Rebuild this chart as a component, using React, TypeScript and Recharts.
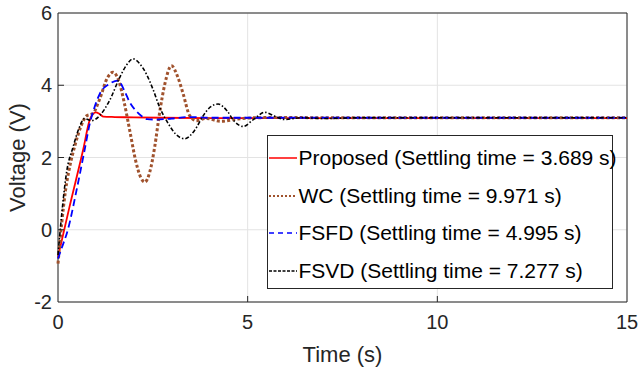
import React from 'react';
import { LineChart, Line, XAxis, YAxis, CartesianGrid, ReferenceArea } from 'recharts';

const xTicks = [0, 5, 10, 15];
const yTicks = [-2, 0, 2, 4, 6];

const seriesNames = [
  'Proposed (Settling time = 3.689 s)',
  'WC (Settling time = 9.971 s)',
  'FSFD (Settling time = 4.995 s)',
  'FSVD (Settling time = 7.277 s)',
];

const proposedT = [0, 0.3, 0.66, 0.84, 0.92, 1.0, 1.1, 1.2, 1.5, 2.0, 2.7, 4, 6, 8, 10, 12, 15];
const proposedV = [-0.75, 0.62, 2.2, 3.05, 3.2, 3.25, 3.2, 3.13, 3.12, 3.11, 3.1, 3.09, 3.09, 3.09, 3.09, 3.09, 3.09];

const wcT = [0, 0.1, 0.2, 0.3, 0.45, 0.6, 0.75, 0.92, 1.1, 1.3, 1.45, 1.6, 1.75, 1.9, 2.05, 2.18, 2.29, 2.42, 2.55, 2.68, 2.82, 2.99, 3.15, 3.3, 3.47, 3.65, 3.9, 4.3, 4.7, 5.2, 6, 7, 8, 9, 10, 11, 12, 13, 14, 15];
const wcV = [-0.94, 0.2, 1.1, 1.7, 2.35, 2.85, 3.15, 3.22, 3.62, 4.2, 4.36, 4.13, 3.5, 2.7, 1.9, 1.45, 1.32, 1.6, 2.3, 3.25, 4.05, 4.54, 4.25, 3.76, 3.16, 3.02, 3.08, 3.0, 3.06, 3.1, 3.11, 3.1, 3.1, 3.1, 3.1, 3.1, 3.1, 3.1, 3.1, 3.1];

const fsfdT = [0, 0.1, 0.26, 0.49, 0.7, 0.84, 0.95, 1.1, 1.36, 1.58, 1.75, 1.89, 2.05, 2.2, 2.35, 2.6, 3.0, 3.5, 4, 5, 6, 8, 10, 12, 15];
const fsfdV = [-0.8, -0.5, 0, 1.1, 2.2, 2.95, 3.35, 3.76, 4.04, 4.13, 3.85, 3.53, 3.3, 3.15, 3.06, 3.05, 3.08, 3.12, 3.1, 3.1, 3.1, 3.1, 3.1, 3.1, 3.1];

const fsvdT = [0, 0.1, 0.22, 0.4, 0.55, 0.7, 0.88, 1.1, 1.36, 1.63, 1.8, 1.98, 2.15, 2.33, 2.5, 2.68, 2.9, 3.1, 3.34, 3.6, 3.83, 4.02, 4.22, 4.45, 4.65, 4.88, 5.15, 5.45, 5.7, 5.98, 6.4, 7, 8, 9, 10, 11, 12, 13, 14, 15];
const fsvdV = [-0.7, 0.45, 1.55, 2.3, 2.8, 3.08, 3.02, 3.16, 3.58, 4.22, 4.55, 4.73, 4.6, 4.31, 3.9, 3.39, 2.95, 2.65, 2.52, 2.75, 3.16, 3.4, 3.48, 3.3, 3.0, 2.86, 3.05, 3.25, 3.15, 3.05, 3.1, 3.08, 3.1, 3.1, 3.1, 3.1, 3.1, 3.1, 3.1, 3.1];

const toData = (ts: number[], vs: number[]) => ts.map((t, i) => ({ t, v: vs[i] }));

const proposedData = toData(proposedT, proposedV);
const wcData = toData(wcT, wcV);
const fsfdData = toData(fsfdT, fsfdV);
const fsvdData = toData(fsvdT, fsvdV);

const FONT = '"Liberation Sans", Arial, Helvetica, sans-serif';
const AX = '#262626';

const styles = [
  { color: '#ff0000', width: 1.8, dash: undefined as string | undefined, legendDash: undefined as string | undefined, legendWidth: 1.5 },
  { color: '#a0522d', width: 3, dash: '3 2.2', legendDash: '2 2', legendWidth: 2.2 },
  { color: '#0000ff', width: 1.8, dash: '7 4', legendDash: '5 4', legendWidth: 1.5 },
  { color: '#000000', width: 1.6, dash: '4 2 1.5 2', legendDash: '3 1.5', legendWidth: 1.3 },
];

const XTick = (props: any) => {
  const { x, y, payload } = props;
  const v = payload.value;
  return (
    <g>
      {v !== 0 && v !== 15 ? (
        <line x1={x} x2={x} y1={y - 13} y2={y - 19} stroke={AX} strokeWidth={1} />
      ) : null}
      <text x={x} y={y} dy="0.71em" textAnchor="middle" fill={AX} fontSize={20} fontFamily={FONT}>
        {String(v)}
      </text>
    </g>
  );
};

const YTick = (props: any) => {
  const { x, y, payload } = props;
  const v = payload.value;
  return (
    <g>
      {v !== -2 && v !== 6 ? (
        <line x1={x + 6} x2={x + 12} y1={y} y2={y} stroke={AX} strokeWidth={1} />
      ) : null}
      <text x={x} y={y} dy="0.355em" textAnchor="end" fill={AX} fontSize={20} fontFamily={FONT}>
        {String(v)}
      </text>
    </g>
  );
};

const YLabel = () => (
  <text
    x={17.5}
    y={157.5}
    transform="rotate(-90 17.5 157.5)"
    textAnchor="middle"
    dominantBaseline="central"
    fill={AX}
    fontSize={22}
    fontFamily={FONT}
  >
    Voltage (V)
  </text>
);

export default function App() {
  return (
    <div style={{ position: 'fixed', left: 0, top: 0, width: 638, height: 371, background: '#fff' }}>
      <LineChart width={638} height={371} margin={{ top: 13, right: 11, left: 0, bottom: 0 }}>
        <CartesianGrid stroke="#e3e3e3" strokeWidth={1} />
        <XAxis
          dataKey="t"
          type="number"
          domain={[0, 15]}
          ticks={xTicks}
          height={69}
          tickSize={0}
          tickMargin={13}
          axisLine={false}
          tick={<XTick />}
          allowDuplicatedCategory={false}
          label={{ value: 'Time (s)', position: 'insideBottom', offset: 9, fill: AX, fontSize: 22, fontFamily: FONT }}
        />
        <YAxis
          type="number"
          domain={[-2, 6]}
          ticks={yTicks}
          width={58}
          tickSize={0}
          tickMargin={6}
          axisLine={false}
          tick={<YTick />}
          label={{ content: () => <YLabel /> }}
        />
        <Line data={proposedData} dataKey="v" type="monotone" stroke={styles[0].color} strokeWidth={styles[0].width} dot={false} isAnimationActive={false} name={seriesNames[0]} />
        <Line data={wcData} dataKey="v" type="monotone" stroke={styles[1].color} strokeWidth={styles[1].width} strokeDasharray={styles[1].dash} dot={false} isAnimationActive={false} name={seriesNames[1]} />
        <Line data={fsfdData} dataKey="v" type="monotone" stroke={styles[2].color} strokeWidth={styles[2].width} strokeDasharray={styles[2].dash} dot={false} isAnimationActive={false} name={seriesNames[2]} />
        <Line data={fsvdData} dataKey="v" type="monotone" stroke={styles[3].color} strokeWidth={styles[3].width} strokeDasharray={styles[3].dash} dot={false} isAnimationActive={false} name={seriesNames[3]} />
        <ReferenceArea x1={0} x2={15} y1={-2} y2={6} fill="none" stroke={AX} strokeWidth={1} ifOverflow="visible" />
      </LineChart>
      <div
        style={{
          position: 'absolute',
          left: 266.5,
          top: 135,
          width: 346,
          height: 154,
          boxSizing: 'border-box',
          border: `1px solid ${AX}`,
          background: '#fff',
          paddingTop: 3,
          fontFamily: FONT,
          fontSize: 21,
          color: '#000',
        }}
      >
        {seriesNames.map((n, i) => (
          <div key={n} style={{ height: 37.8, display: 'flex', alignItems: 'center', whiteSpace: 'nowrap' }}>
            <svg width={30} height={10} style={{ marginLeft: 1, marginRight: 0, flex: 'none' }}>
              <line
                x1={0}
                x2={28}
                y1={5}
                y2={5}
                stroke={styles[i].color}
                strokeWidth={styles[i].legendWidth}
                strokeDasharray={styles[i].legendDash}
              />
            </svg>
            <span>{n}</span>
          </div>
        ))}
      </div>
    </div>
  );
}
